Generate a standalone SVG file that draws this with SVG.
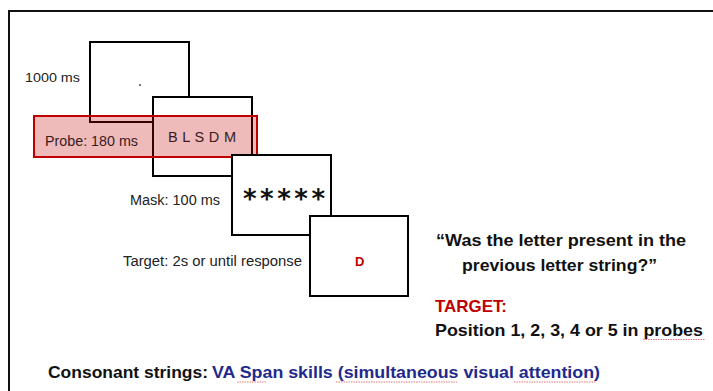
<svg xmlns="http://www.w3.org/2000/svg" width="713" height="391" viewBox="0 0 713 391">
<style>
.frame{fill:none;stroke:#111;stroke-width:2}
.box{fill:#fff;stroke:#000;stroke-width:2}
.lbl{font-family:"Liberation Sans",Arial,sans-serif;font-size:13px;fill:#222}
.big{font-family:"Liberation Sans",Arial,sans-serif;font-size:17px;font-weight:bold;fill:#111}
.squig{fill:none;stroke:#e05050;stroke-width:0.8;stroke-dasharray:1.5 1}
</style>
<rect width="713" height="391" fill="#fff"/>
<rect class="frame" x="9" y="11" width="720" height="400"/>
<g id="fixation">
<rect class="box" x="90" y="42" width="99" height="80"/>
<circle cx="140" cy="85" r="0.9" fill="#333"/>
<text class="lbl" x="25" y="82" textLength="55" lengthAdjust="spacingAndGlyphs">1000 ms</text>
</g>
<g id="probe">
<rect class="box" x="153" y="97" width="99" height="79"/>
<rect x="34" y="116" width="223" height="41" fill="#c00000" fill-opacity="0.27" stroke="#c00000" stroke-width="2"/>
<text class="lbl" x="45" y="146" textLength="93" lengthAdjust="spacingAndGlyphs" style="font-size:14px;fill:#3a1a1a">Probe: 180 ms</text>
<text class="lbl" x="168" y="142" textLength="68" lengthAdjust="spacing" style="font-size:14.5px;fill:#3a1a1a">B L S D M</text>
</g>
<g id="mask">
<rect class="box" x="232" y="155" width="99" height="80"/>
<text class="lbl" x="130" y="205" textLength="90" lengthAdjust="spacingAndGlyphs" style="font-size:14px">Mask: 100 ms</text>
<text x="243" y="208" textLength="82" lengthAdjust="spacing" style="font-family:'DejaVu Sans',sans-serif;font-size:26px;font-weight:bold;fill:#111">*****</text>
</g>
<g id="target">
<rect class="box" x="310" y="216" width="98" height="80"/>
<text class="lbl" x="123" y="266" textLength="179" lengthAdjust="spacingAndGlyphs" style="font-size:14px">Target: 2s or until response</text>
<text x="355" y="266" style="font-family:'Liberation Sans',Arial,sans-serif;font-size:13px;font-weight:bold;fill:#c00000">D</text>
</g>
<g id="question">
<text class="big" x="436" y="246" textLength="250" lengthAdjust="spacingAndGlyphs">“Was the letter present in the</text>
<text class="big" x="462" y="271" textLength="195" lengthAdjust="spacingAndGlyphs">previous letter string?”</text>
<text class="big" x="435" y="312" textLength="72" lengthAdjust="spacingAndGlyphs" style="fill:#c00000">TARGET:</text>
<text class="big" x="435" y="336" textLength="268" lengthAdjust="spacingAndGlyphs">Position 1, 2, 3, 4 or 5 in probes</text>
<path class="squig" d="M643 339.5 H705"/>
</g>
<g id="caption">
<text class="big" x="48" y="378" textLength="160" lengthAdjust="spacingAndGlyphs">Consonant strings:</text>
<text class="big" x="212" y="378" textLength="388" lengthAdjust="spacingAndGlyphs" style="fill:#1f2a8c">VA Span skills (simultaneous visual attention)</text>
<path class="squig" d="M237 382 H267 M336 382 H457 M514 382 H596"/>
</g>
</svg>
